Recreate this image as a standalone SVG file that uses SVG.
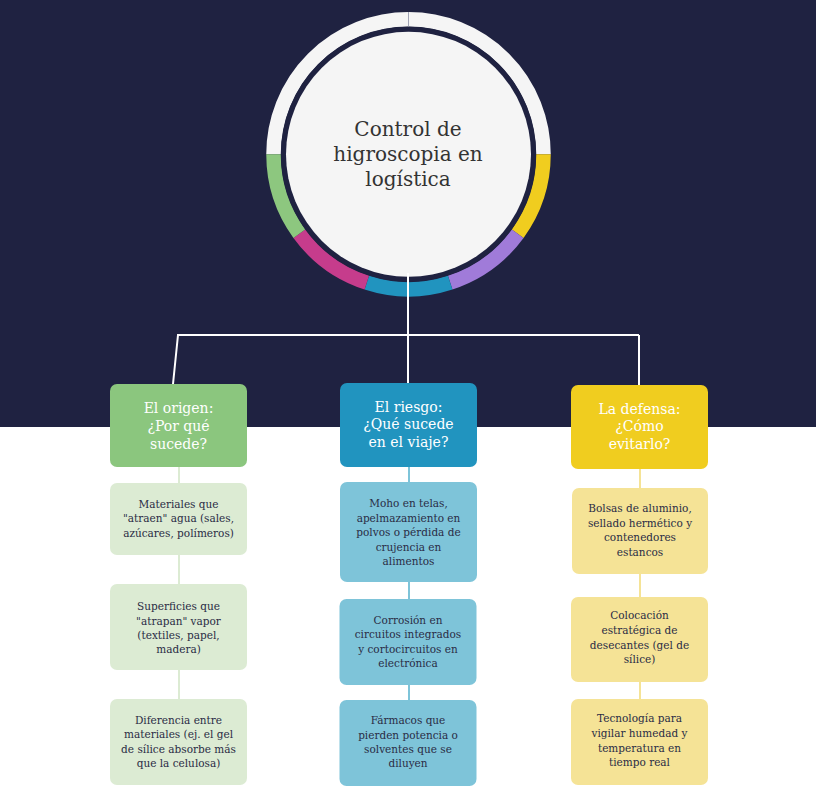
<svg xmlns="http://www.w3.org/2000/svg" width="816" height="799" viewBox="0 0 816 799">
<style>
.hdr{font-family:"DejaVu Serif","Liberation Serif",serif;font-size:14px;fill:#ffffff;text-anchor:middle}
.leaf{font-family:"DejaVu Serif","Liberation Serif",serif;font-size:10.5px;fill:#2a2c45;text-anchor:middle}
.title{font-family:"DejaVu Serif","Liberation Serif",serif;font-size:20px;fill:#333333;text-anchor:middle}
.seg{fill:none;stroke-width:14.5}
.conn{fill:none;stroke:#ffffff;stroke-width:2}
</style>
<rect x="0" y="0" width="816" height="799" fill="#ffffff"/>
<rect x="0" y="0" width="816" height="427" fill="#1f2241"/>

<g id="connectors">
<path class="conn" d="M408 273 V335 M177 335 H639 M178 335 L173 384 M408 335 V383 M639 335 V385"/>
<path d="M179 467 V699" stroke="#dcebd3" stroke-width="2" fill="none"/>
<path d="M409 467 V700" stroke="#7ec4d9" stroke-width="2" fill="none"/>
<path d="M640 469 V699" stroke="#f5e396" stroke-width="2" fill="none"/>
</g>

<g id="root">
<path class="seg" stroke="#f5f5f5" d="M273.5 154.3 A135 135 0 0 1 543.5 154.3"/>
<path class="seg" stroke="#f0cd1f" d="M543.5 154.3 A135 135 0 0 1 517.7 233.7"/>
<path class="seg" stroke="#a07bd9" d="M517.7 233.7 A135 135 0 0 1 450.2 282.7"/>
<path class="seg" stroke="#2194bf" d="M450.2 282.7 A135 135 0 0 1 366.8 282.7"/>
<path class="seg" stroke="#c63c8c" d="M366.8 282.7 A135 135 0 0 1 299.3 233.7"/>
<path class="seg" stroke="#8dc77f" d="M299.3 233.7 A135 135 0 0 1 273.5 154.3"/>
<line x1="408.5" y1="12" x2="408.5" y2="27" stroke="#a0a3b5" stroke-width="1"/>
<circle cx="408.5" cy="154.3" r="127.5" fill="#1f2241"/>
<circle cx="408.5" cy="154.3" r="122.5" fill="#f5f5f5"/>
<line x1="408" y1="273" x2="408" y2="300" stroke="#ffffff" stroke-width="2"/>
<text class="title"><tspan x="408" y="136">Control de</tspan><tspan x="408" y="161">higroscopia en</tspan><tspan x="408" y="186">logística</tspan></text>
</g>

<g id="h-origen">
<rect x="110" y="384" width="137" height="83" rx="7" fill="#8bc67e"/>
<text class="hdr"><tspan x="178.5" y="413">El origen:</tspan><tspan x="178.5" y="431">¿Por qué</tspan><tspan x="178.5" y="448.5">sucede?</tspan></text>
</g>
<g id="h-riesgo">
<rect x="340" y="383" width="137" height="84" rx="7" fill="#2194bf"/>
<text class="hdr"><tspan x="408.5" y="412">El riesgo:</tspan><tspan x="408.5" y="429">¿Qué sucede</tspan><tspan x="408.5" y="446.5">en el viaje?</tspan></text>
</g>
<g id="h-defensa">
<rect x="571" y="385" width="137" height="84" rx="7" fill="#f0cd1f"/>
<text class="hdr"><tspan x="639.5" y="413.5">La defensa:</tspan><tspan x="639.5" y="431">¿Cómo</tspan><tspan x="639.5" y="448.5">evitarlo?</tspan></text>
</g>

<g id="o1">
<rect x="110" y="483" width="137" height="72" rx="7" fill="#dcebd3"/>
<text class="leaf"><tspan x="178.5" y="507.5">Materiales que</tspan><tspan x="178.5" y="522">"atraen" agua (sales,</tspan><tspan x="178.5" y="536.5">azúcares, polímeros)</tspan></text>
</g>
<g id="o2">
<rect x="110" y="584" width="137" height="86" rx="7" fill="#dcebd3"/>
<text class="leaf"><tspan x="178.5" y="610">Superficies que</tspan><tspan x="178.5" y="624.5">"atrapan" vapor</tspan><tspan x="178.5" y="638.5">(textiles, papel,</tspan><tspan x="178.5" y="653">madera)</tspan></text>
</g>
<g id="o3">
<rect x="110" y="699" width="137" height="86" rx="7" fill="#dcebd3"/>
<text class="leaf"><tspan x="178.5" y="723.5">Diferencia entre</tspan><tspan x="178.5" y="738">materiales (ej. el gel</tspan><tspan x="178.5" y="752.5">de sílice absorbe más</tspan><tspan x="178.5" y="767">que la celulosa)</tspan></text>
</g>

<g id="r1">
<rect x="340" y="482" width="137" height="100" rx="7" fill="#7ec4d9"/>
<text class="leaf"><tspan x="408.5" y="507">Moho en telas,</tspan><tspan x="408.5" y="521.5">apelmazamiento en</tspan><tspan x="408.5" y="536">polvos o pérdida de</tspan><tspan x="408.5" y="550.5">crujencia en</tspan><tspan x="408.5" y="565">alimentos</tspan></text>
</g>
<g id="r2">
<rect x="339.5" y="599" width="137" height="86" rx="7" fill="#7ec4d9"/>
<text class="leaf"><tspan x="408" y="623.5">Corrosión en</tspan><tspan x="408" y="638">circuitos integrados</tspan><tspan x="408" y="652.5">y cortocircuitos en</tspan><tspan x="408" y="667">electrónica</tspan></text>
</g>
<g id="r3">
<rect x="339.5" y="700" width="137" height="86" rx="7" fill="#7ec4d9"/>
<text class="leaf"><tspan x="408" y="724">Fármacos que</tspan><tspan x="408" y="738.5">pierden potencia o</tspan><tspan x="408" y="753">solventes que se</tspan><tspan x="408" y="767">diluyen</tspan></text>
</g>

<g id="d1">
<rect x="572" y="488" width="136" height="86" rx="7" fill="#f5e396"/>
<text class="leaf"><tspan x="640" y="512">Bolsas de aluminio,</tspan><tspan x="640" y="526.5">sellado hermético y</tspan><tspan x="640" y="541">contenedores</tspan><tspan x="640" y="555.5">estancos</tspan></text>
</g>
<g id="d2">
<rect x="571" y="597" width="137" height="85" rx="7" fill="#f5e396"/>
<text class="leaf"><tspan x="639.5" y="618.5">Colocación</tspan><tspan x="639.5" y="633.5">estratégica de</tspan><tspan x="639.5" y="648.5">desecantes (gel de</tspan><tspan x="639.5" y="663">sílice)</tspan></text>
</g>
<g id="d3">
<rect x="571" y="699" width="137" height="86" rx="7" fill="#f5e396"/>
<text class="leaf"><tspan x="639.5" y="722">Tecnología para</tspan><tspan x="639.5" y="737">vigilar humedad y</tspan><tspan x="639.5" y="751.5">temperatura en</tspan><tspan x="639.5" y="766">tiempo real</tspan></text>
</g>
</svg>
